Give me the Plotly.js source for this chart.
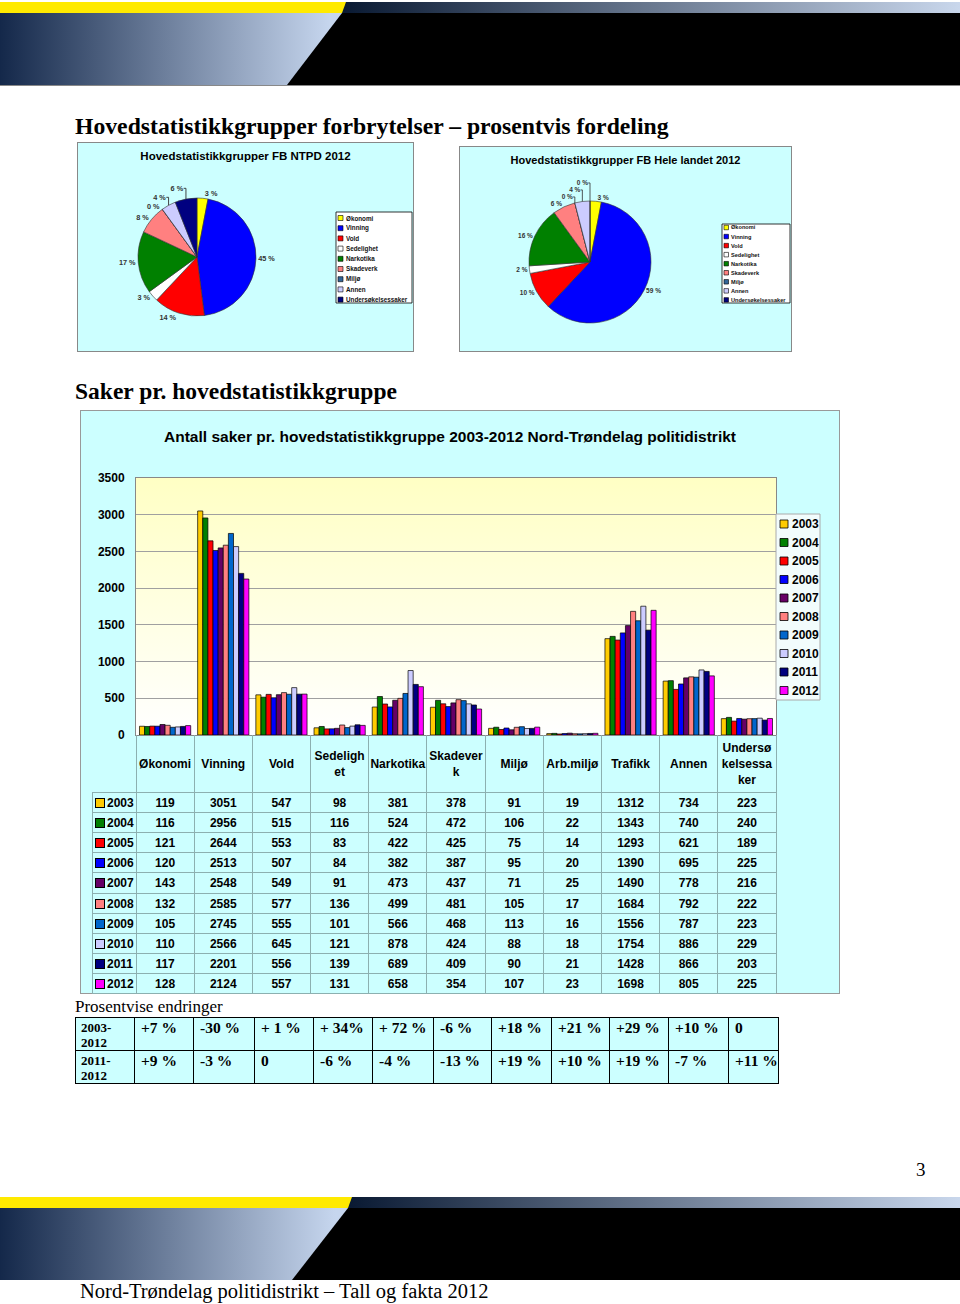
<!DOCTYPE html>
<html><head><meta charset="utf-8">
<script src="https://cdn.plot.ly/plotly-3.0.1.min.js"></script>
<style>
body{margin:0;width:960px;height:1304px;position:relative;background:#fff;overflow:hidden;font-family:"Liberation Sans",Arial,sans-serif}
.abs{position:absolute}
.serif{font-family:"Liberation Serif","Times New Roman",serif;color:#000}
#pct{position:absolute;left:75px;top:1017px;border-collapse:collapse;table-layout:fixed;font-family:"Liberation Serif","Times New Roman",serif;font-weight:bold}
#pct td{border:1.5px solid #000;background:#ccffff;vertical-align:top;padding:2px 0 0 6px;font-size:15.5px;line-height:16px;white-space:nowrap;overflow:hidden}
#pct td.lab{font-size:13px;line-height:15px;padding-left:5px}
.cell{position:absolute;text-align:center;font-weight:bold;font-size:12px;color:#000;pointer-events:none}
.ln{position:absolute;background:#8cb0b0;pointer-events:none}
</style></head>
<body>
<!-- top banner -->
<div class="abs" style="left:0;top:2px;width:960px;height:11px;background:linear-gradient(to right,#0a1a33 345px,#c9d7ec 960px)"></div>
<div class="abs" style="left:0;top:2px;width:350px;height:11px;background:#ffea00;clip-path:polygon(0 0,346px 0,342px 100%,0 100%)"></div>
<div class="abs" style="left:0;top:13px;width:960px;height:72px;background:#000"></div>
<div class="abs" style="left:0;top:13px;width:345px;height:72px;background:linear-gradient(to right,#14284a,#c6d6ee 330px);clip-path:polygon(0 0,342px 0,287px 100%,0 100%)"></div>
<div class="abs" style="left:0;top:85px;width:960px;height:1px;background:#888"></div>

<div class="abs serif" style="left:75px;top:113px;font-size:23.7px;font-weight:bold;white-space:nowrap">Hovedstatistikkgrupper forbrytelser – prosentvis fordeling</div>

<div id="pie1" class="abs" style="left:77px;top:142px;width:337px;height:210px;box-shadow:inset 0 0 0 1px #888;background:#ccffff"></div>
<div id="pie2" class="abs" style="left:459px;top:146px;width:333px;height:206px;box-shadow:inset 0 0 0 1px #888;background:#ccffff"></div>

<div class="abs serif" style="left:75px;top:378px;font-size:23.5px;font-weight:bold;white-space:nowrap">Saker pr. hovedstatistikkgruppe</div>

<div id="barwrap" class="abs" style="left:80px;top:410px;width:760px;height:584px;background:#ccffff;box-shadow:inset 0 0 0 1px #999">
  <div class="abs" style="left:56px;top:68px;width:640px;height:257px;background:linear-gradient(to bottom,#ffffc4,#ffffff)"></div>
  <div id="bar" class="abs" style="left:0;top:0;width:760px;height:584px"></div>
</div>

<div class="abs serif" style="left:75px;top:997px;font-size:17px;white-space:nowrap">Prosentvise endringer</div>
<table id="pct"></table>

<div class="abs serif" style="left:916px;top:1159px;font-size:19px">3</div>

<!-- bottom banner -->
<div class="abs" style="left:0;top:1197px;width:960px;height:11px;background:linear-gradient(to right,#0a1a33 350px,#c9d7ec 960px)"></div>
<div class="abs" style="left:0;top:1197px;width:356px;height:11px;background:#ffea00;clip-path:polygon(0 0,352px 0,348px 100%,0 100%)"></div>
<div class="abs" style="left:0;top:1208px;width:960px;height:72px;background:#000"></div>
<div class="abs" style="left:0;top:1208px;width:352px;height:72px;background:linear-gradient(to right,#14284a,#c6d6ee 335px);clip-path:polygon(0 0,348px 0,292px 100%,0 100%)"></div>
<div class="abs serif" style="left:80px;top:1280px;font-size:20.5px;white-space:nowrap">Nord-Trøndelag politidistrikt – Tall og fakta 2012</div>

<script>
// ---------- data ----------
const categories = ['Økonomi','Vinning','Vold','Sedelighet','Narkotika','Skadeverk','Miljø','Arb.miljø','Trafikk','Annen','Undersøkelsessaker'];
const headerLabels = ['Økonomi','Vinning','Vold','Sedeligh<br>et','Narkotika','Skadever<br>k','Miljø','Arb.miljø','Trafikk','Annen','Undersø<br>kelsessa<br>ker'];
const years = ['2003','2004','2005','2006','2007','2008','2009','2010','2011','2012'];
const yearColors = ['#FFCC00','#008000','#FF0000','#0000FF','#660066','#FF8080','#0066CC','#CCCCFF','#000080','#FF00FF'];
const v2003 = [119,3051,547,98,381,378,91,19,1312,734,223];
const v2004 = [116,2956,515,116,524,472,106,22,1343,740,240];
const v2005 = [121,2644,553,83,422,425,75,14,1293,621,189];
const v2006 = [120,2513,507,84,382,387,95,20,1390,695,225];
const v2007 = [143,2548,549,91,473,437,71,25,1490,778,216];
const v2008 = [132,2585,577,136,499,481,105,17,1684,792,222];
const v2009 = [105,2745,555,101,566,468,113,16,1556,787,223];
const v2010 = [110,2566,645,121,878,424,88,18,1754,886,229];
const v2011 = [117,2201,556,139,689,409,90,21,1428,866,203];
const v2012 = [128,2124,557,131,658,354,107,23,1698,805,225];
const yearValues = [v2003,v2004,v2005,v2006,v2007,v2008,v2009,v2010,v2011,v2012];

const pieLabels = ['Økonomi','Vinning','Vold','Sedelighet','Narkotika','Skadeverk','Miljø','Annen','Undersøkelsessaker'];
const pieColors = ['#FFFF00','#0000FF','#FF0000','#FFFFFF','#008000','#FF8080','#336699','#CCCCFF','#000080'];
const pieNTPD = [3,45,14,3,17,8,0,4,6];
const pieLandet = [3,59,10,2,16,6,0,4,0];

const pctRowLabels = ['2003-<br>2012','2011-<br>2012'];
const change0312 = ['+7 %','-30 %','+ 1 %','+ 34%','+ 72 %','-6 %','+18 %','+21 %','+29 %','+10 %','0'];
const change1112 = ['+9 %','-3 %','0','-6 %','-4 %','-13 %','+19 %','+10 %','+19 %','-7 %','+11 %'];

const FONT = '"Liberation Sans", Arial, sans-serif';

// ---------- pies ----------
function pieFig(id, vals, W, H, cx, cy, r, titleText, titleY, titleSize, labelSize, leg) {
  const trace = {
    type:'pie', labels:pieLabels, values:vals, sort:false, direction:'clockwise', rotation:0,
    marker:{colors:pieColors, line:{color:'#333', width:0.6}},
    textposition:'outside', texttemplate:'%{value} %',
    textfont:{family:FONT, size:labelSize, color:'#333', weight:'bold'},
    hoverinfo:'none', showlegend:false,
    domain:{x:[(cx-r)/W,(cx+r)/W], y:[1-(cy+r)/H, 1-(cy-r)/H]}
  };
  const shapes = [], ann = [];
  shapes.push({type:'rect', xref:'paper', yref:'paper', x0:leg.x0/W, x1:leg.x1/W, y0:1-leg.y0/H, y1:1-leg.y1/H,
    fillcolor:'#ffffff', line:{color:'#000', width:0.8}});
  pieLabels.forEach((lab,i)=>{
    const yc = leg.first + i*leg.step;
    shapes.push({type:'rect', xref:'paper', yref:'paper', x0:leg.sq/W, x1:(leg.sq+leg.s)/W,
      y0:1-(yc+leg.s/2)/H, y1:1-(yc-leg.s/2)/H, fillcolor:pieColors[i], line:{color:'#000', width:0.6}});
    ann.push({xref:'paper', yref:'paper', x:leg.tx/W, y:1-yc/H, xanchor:'left', yanchor:'middle',
      text:lab, showarrow:false, font:{family:FONT, size:leg.fs, color:'#111', weight:'bold'}});
  });
  Plotly.newPlot(id, [trace], {
    width:W, height:H, margin:{l:0,r:0,t:0,b:0},
    paper_bgcolor:'rgba(0,0,0,0)', plot_bgcolor:'rgba(0,0,0,0)',
    title:{text:titleText, x:0.5, xanchor:'center', y:titleY, yanchor:'middle', yref:'container',
      font:{family:FONT, size:titleSize, color:'#000', weight:'bold'}},
    shapes:shapes, annotations:ann, showlegend:false
  }, {staticPlot:true});
}
pieFig('pie1', pieNTPD, 337, 210, 120, 115, 59, 'Hovedstatistikkgrupper FB NTPD 2012', 1-14/210, 11.5, 7.3,
  {x0:259, x1:335, y0:70, y1:161, first:76, step:10.2, sq:261, s:5, tx:267, fs:6.3});
pieFig('pie2', pieLandet, 333, 206, 131, 116, 61, 'Hovedstatistikkgrupper FB Hele landet 2012', 1-14/206, 11, 6.5,
  {x0:263, x1:331, y0:78, y1:157, first:81.5, step:9.05, sq:265, s:4.5, tx:270, fs:5.6});

// ---------- bar chart ----------
const W = 760, H = 584, L = 56, R = 64, T = 68, B = 259;
const PW = W-L-R, PH = H-T-B;
const bars = years.map((yr,i)=>({
  type:'bar', name:yr, x:categories, y:yearValues[i],
  marker:{color:yearColors[i], line:{color:'#000', width:0.7}},
  hoverinfo:'none', showlegend:false
}));
const bshapes = [], bann = [];
const lx0 = 696, lx1 = 740, ly0 = 104, ly1 = 290;
const px2x = p => (p-L)/PW, px2y = p => (T+PH-p)/PH;
bshapes.push({type:'rect', xref:'paper', yref:'paper', x0:px2x(lx0), x1:px2x(lx1), y0:px2y(ly1), y1:px2y(ly0),
  fillcolor:'#f2fcfc', line:{color:'#aaa', width:1}});
years.forEach((yr,i)=>{
  const yc = 114 + i*18.5;
  bshapes.push({type:'rect', xref:'paper', yref:'paper', x0:px2x(700), x1:px2x(708), y0:px2y(yc+4), y1:px2y(yc-4),
    fillcolor:yearColors[i], line:{color:'#000', width:0.8}});
  bann.push({xref:'paper', yref:'paper', x:px2x(710), y:px2y(yc), xanchor:'left', yanchor:'middle', showarrow:false,
    text:yr, font:{family:FONT, size:12, color:'#000', weight:'bold'}});
});
Plotly.newPlot('bar', bars, {
  width:W, height:H, margin:{l:L, r:R, t:T, b:B},
  paper_bgcolor:'rgba(0,0,0,0)', plot_bgcolor:'rgba(0,0,0,0)',
  barmode:'group', bargap:0.12, bargroupgap:0,
  title:{text:'Antall saker pr. hovedstatistikkgruppe 2003-2012 Nord-Trøndelag politidistrikt',
    x:370/W, xanchor:'center', y:1-27/H, yanchor:'middle', yref:'container',
    font:{family:FONT, size:15.5, color:'#000', weight:'bold'}},
  xaxis:{type:'category', showticklabels:false, ticks:'', showgrid:false, showline:true, mirror:true,
    linecolor:'#888', linewidth:1, range:[-0.5, categories.length-0.5], fixedrange:true},
  yaxis:{range:[0,3500], dtick:500, showgrid:true, gridcolor:'#a0a0a0', gridwidth:1, zeroline:false,
    showline:true, mirror:true, linecolor:'#888', ticks:'', ticklabelstandoff:8,
    tickfont:{family:FONT, size:12, color:'#000', weight:'bold'}, fixedrange:true},
  shapes:bshapes, annotations:bann, showlegend:false
}, {staticPlot:true});

// ---------- data table under bar chart ----------
const wrap = document.getElementById('barwrap');
const colW = PW/categories.length;
const hTop = T+PH, hBot = 382, rowH = (H-1-hBot)/years.length, labL = 12;
function addLine(x,y,w,h){const d=document.createElement('div');d.className='ln';d.style.left=x+'px';d.style.top=y+'px';d.style.width=w+'px';d.style.height=h+'px';wrap.appendChild(d);}
for(let k=0;k<=categories.length;k++) addLine(L+k*colW-0.5, hTop, 1, H-1-hTop);
addLine(labL, hBot, 1, H-1-hBot);
for(let i=0;i<=years.length;i++) addLine(labL, hBot+i*rowH, L+PW-labL, 1);
headerLabels.forEach((t,k)=>{
  const d=document.createElement('div'); d.className='cell';
  d.style.left=(L+k*colW)+'px'; d.style.width=colW+'px'; d.style.top=hTop+'px'; d.style.height=(hBot-hTop)+'px';
  d.style.display='flex'; d.style.alignItems='center'; d.style.justifyContent='center'; d.style.lineHeight='16px';
  d.innerHTML='<span>'+t+'</span>'; wrap.appendChild(d);
});
years.forEach((yr,i)=>{
  const top = hBot+i*rowH;
  const lab=document.createElement('div'); lab.className='cell';
  lab.style.left=(labL+3)+'px'; lab.style.top=top+'px'; lab.style.height=rowH+'px'; lab.style.lineHeight=(rowH+2)+'px'; lab.style.textAlign='left';
  lab.innerHTML='<span style="display:inline-block;width:8px;height:8px;border:1px solid #000;background:'+yearColors[i]+';margin-right:2px;vertical-align:-1px"></span>'+yr;
  wrap.appendChild(lab);
  yearValues[i].forEach((v,k)=>{
    const d=document.createElement('div'); d.className='cell';
    d.style.left=(L+k*colW)+'px'; d.style.width=colW+'px'; d.style.top=top+'px'; d.style.height=rowH+'px'; d.style.lineHeight=(rowH+2)+'px';
    d.textContent=v; wrap.appendChild(d);
  });
});

// ---------- percent change table ----------
const pctColW = [59,59,61,59,59,61,58,60,58,59,60,50];
const pct = document.getElementById('pct');
const cg = document.createElement('colgroup');
pctColW.forEach(w=>{const c=document.createElement('col'); c.style.width=w+'px'; cg.appendChild(c);});
pct.appendChild(cg);
[change0312, change1112].forEach((row,r)=>{
  const tr=document.createElement('tr'); tr.style.height=(r===0?33:32)+'px';
  const th=document.createElement('td'); th.className='lab'; th.innerHTML=pctRowLabels[r]; tr.appendChild(th);
  row.forEach(v=>{const td=document.createElement('td'); td.textContent=v; tr.appendChild(td);});
  pct.appendChild(tr);
});
pct.style.width = pctColW.reduce((a,b)=>a+b,0)+'px';
</script>
</body></html>
